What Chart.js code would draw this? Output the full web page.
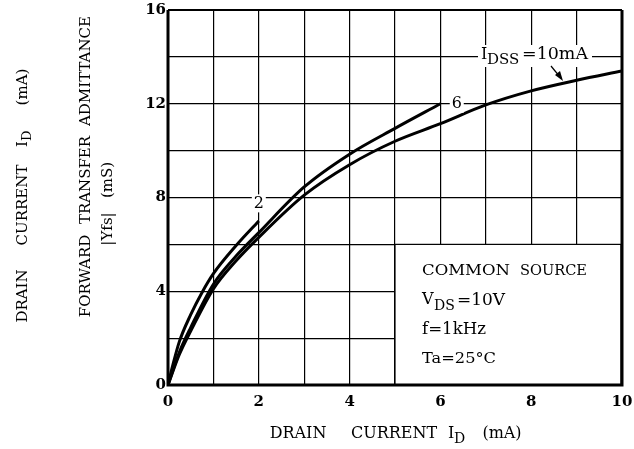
<!DOCTYPE html>
<html><head><meta charset="utf-8">
<script src="https://cdn.jsdelivr.net/npm/chart.js@4/dist/chart.umd.min.js"></script>
<style>html,body{margin:0;padding:0;background:#fff}#wrap{width:634px;height:449px}</style>
</head><body><div id="wrap"><canvas id="c" width="634" height="449"></canvas></div>
<script>
// Data (|Yfs| in mS vs ID in mA)
const curve2X  = [0, 0.1, 0.25, 0.5, 0.75, 1, 1.5, 2];
const curve2Y  = [0, 0.8, 1.85, 3.0, 3.95, 4.75, 5.95, 7.0];
const curve6X  = [0, 0.25, 0.5, 1, 1.5, 2, 3, 4, 5, 6];
const curve6Y  = [0, 1.4, 2.45, 4.3, 5.5, 6.5, 8.45, 9.85, 10.95, 12.0];
const curve10X = [0, 0.25, 0.5, 1, 1.5, 2, 3, 4, 5, 6, 7, 8, 9, 10];
const curve10Y = [0, 1.3, 2.3, 4.1, 5.3, 6.3, 8.1, 9.4, 10.4, 11.15, 11.95, 12.55, 13.0, 13.4];
const xTickLabels = [0, 2, 4, 6, 8, 10];
const yTickLabels = [0, 4, 8, 12, 16];
const curveLabels = ["2", "6"];

const SERIF = '"DejaVu Serif", "Liberation Serif", serif';
const pts = (xs, ys) => xs.map((x, i) => ({x, y: ys[i]}));

function fit(ctx, text, x0, x1, cy, size) {
  ctx.font = size + 'px ' + SERIF;
  ctx.textAlign = 'left';
  ctx.textBaseline = 'middle';
  const w = ctx.measureText(text).width;
  ctx.save();
  ctx.translate(x0, cy);
  ctx.scale((x1 - x0) / w, 1);
  ctx.fillText(text, 0, 0);
  ctx.restore();
}
function txt(ctx, text, x, cy, size, align) {
  ctx.font = size + 'px ' + SERIF;
  ctx.textAlign = align || 'center';
  ctx.textBaseline = 'middle';
  ctx.fillText(text, x, cy);
}
function vtxt(ctx, text, cx, cy, size, align) {
  ctx.save();
  ctx.translate(cx, cy);
  ctx.rotate(-Math.PI / 2);
  txt(ctx, text, 0, 0, size, align);
  ctx.restore();
}

const overlay = {
  id: 'overlay',
  beforeDatasetsDraw(chart) {
    const {ctx, scales: {x, y}} = chart;
    ctx.save();
    const bx0 = x.getPixelForValue(5), bx1 = x.getPixelForValue(10) - 1;
    const by0 = y.getPixelForValue(6), by1 = y.getPixelForValue(0);
    ctx.fillStyle = '#fff';
    ctx.fillRect(bx0, by0, bx1 - bx0, by1 - by0);
    ctx.strokeStyle = '#000';
    ctx.lineWidth = 1.2;
    ctx.strokeRect(bx0, by0, bx1 - bx0, by1 - by0);
    ctx.fillStyle = '#000';
    fit(ctx, 'COMMON', 422, 510, 271, 15);
    fit(ctx, 'SOURCE', 520, 587, 271, 15);
    txt(ctx, 'V', 422, 300, 16, 'left');
    txt(ctx, 'DS', 434, 306, 14, 'left');
    fit(ctx, '=10V', 457, 505, 301, 16);
    fit(ctx, 'f=1kHz', 422, 486, 330, 16);
    fit(ctx, 'Ta=25°C', 422, 496, 359, 15);
    ctx.restore();
  },
  afterDatasetsDraw(chart) {
    const {ctx, chartArea: a, scales: {x, y}} = chart;
    ctx.save();
    const lab = (t, px, py, w) => {
      ctx.fillStyle = '#fff';
      ctx.fillRect(px - w / 2, py - 9, w, 18);
      ctx.fillStyle = '#000';
      txt(ctx, t, px, py, 16, 'center');
    };
    lab(curveLabels[0], x.getPixelForValue(2), y.getPixelForValue(7.75), 14);
    lab(curveLabels[1], x.getPixelForValue(6.36), y.getPixelForValue(12), 14);
    // IDSS label
    ctx.fillStyle = '#fff';
    ctx.fillRect(478, 45, 114, 22);
    ctx.fillStyle = '#000';
    txt(ctx, 'I', 481, 55, 16, 'left');
    txt(ctx, 'DSS', 487, 60, 15, 'left');
    fit(ctx, '=10mA', 522, 588, 55, 16);
    // arrow
    ctx.strokeStyle = '#000';
    ctx.lineWidth = 1.2;
    ctx.beginPath(); ctx.moveTo(551, 66); ctx.lineTo(560, 77); ctx.stroke();
    ctx.beginPath(); ctx.moveTo(563, 81); ctx.lineTo(555, 75); ctx.lineTo(560, 71); ctx.closePath(); ctx.fill();
    // frame
    ctx.lineWidth = 3;
    ctx.beginPath();
    ctx.moveTo(a.left, a.top); ctx.lineTo(a.left, a.bottom); ctx.lineTo(a.right, a.bottom); ctx.lineTo(a.right, a.top);
    ctx.stroke();
    ctx.lineWidth = 2;
    ctx.beginPath(); ctx.moveTo(a.left, a.top); ctx.lineTo(a.right, a.top); ctx.stroke();
    // x axis title
    txt(ctx, 'DRAIN', 298, 434, 16);
    txt(ctx, 'CURRENT', 394, 434, 16);
    txt(ctx, 'I', 448, 434, 16, 'left');
    txt(ctx, 'D', 454, 439, 14, 'left');
    txt(ctx, '(mA)', 502, 434, 16);
    // y axis titles
    vtxt(ctx, 'DRAIN', 23, 296, 15);
    vtxt(ctx, 'CURRENT', 23, 205, 15);
    vtxt(ctx, 'I', 23, 147, 15, 'left');
    vtxt(ctx, 'D', 28, 141, 13, 'left');
    vtxt(ctx, '(mA)', 23, 87, 15);
    vtxt(ctx, 'FORWARD', 86, 276, 15);
    vtxt(ctx, 'TRANSFER', 86, 180, 15);
    vtxt(ctx, 'ADMITTANCE', 86, 71, 15);
    vtxt(ctx, '|Yfs|', 108, 229, 15);
    vtxt(ctx, '(mS)', 108, 180, 15);
    ctx.restore();
  }
};

const ds = (xs, ys) => ({
  data: pts(xs, ys), showLine: true, pointRadius: 0, borderWidth: 3,
  borderColor: '#000', cubicInterpolationMode: 'monotone', fill: false
});

new Chart(document.getElementById('c'), {
  type: 'scatter',
  data: { datasets: [ds(curve2X, curve2Y), ds(curve6X, curve6Y), ds(curve10X, curve10Y)] },
  options: {
    responsive: false, animation: false, devicePixelRatio: 1,
    layout: { padding: { left: 0, right: 12, top: 10, bottom: 0 } },
    plugins: { legend: { display: false }, tooltip: { enabled: false } },
    scales: {
      x: {
        type: 'linear', min: 0, max: 10,
        ticks: { stepSize: 1, color: '#000', padding: 8,
          font: { family: SERIF, size: 15, weight: 'bold' },
          callback: v => xTickLabels.includes(v) ? String(v) : '' },
        grid: { color: '#000', lineWidth: 1.2, drawTicks: false },
        border: { display: false },
        afterFit: s => { s.height = 64; s.paddingLeft = 0; s.paddingRight = 0; }
      },
      y: {
        type: 'linear', min: 0, max: 16,
        ticks: { stepSize: 2, color: '#000', padding: 2,
          font: { family: SERIF, size: 15, weight: 'bold' },
          callback: v => yTickLabels.includes(v) ? String(v) : '' },
        grid: { color: '#000', lineWidth: 1.2, drawTicks: false },
        border: { display: false },
        afterFit: s => { s.width = 168; s.paddingTop = 0; s.paddingBottom = 0; }
      }
    }
  },
  plugins: [overlay]
});
</script></body></html>
